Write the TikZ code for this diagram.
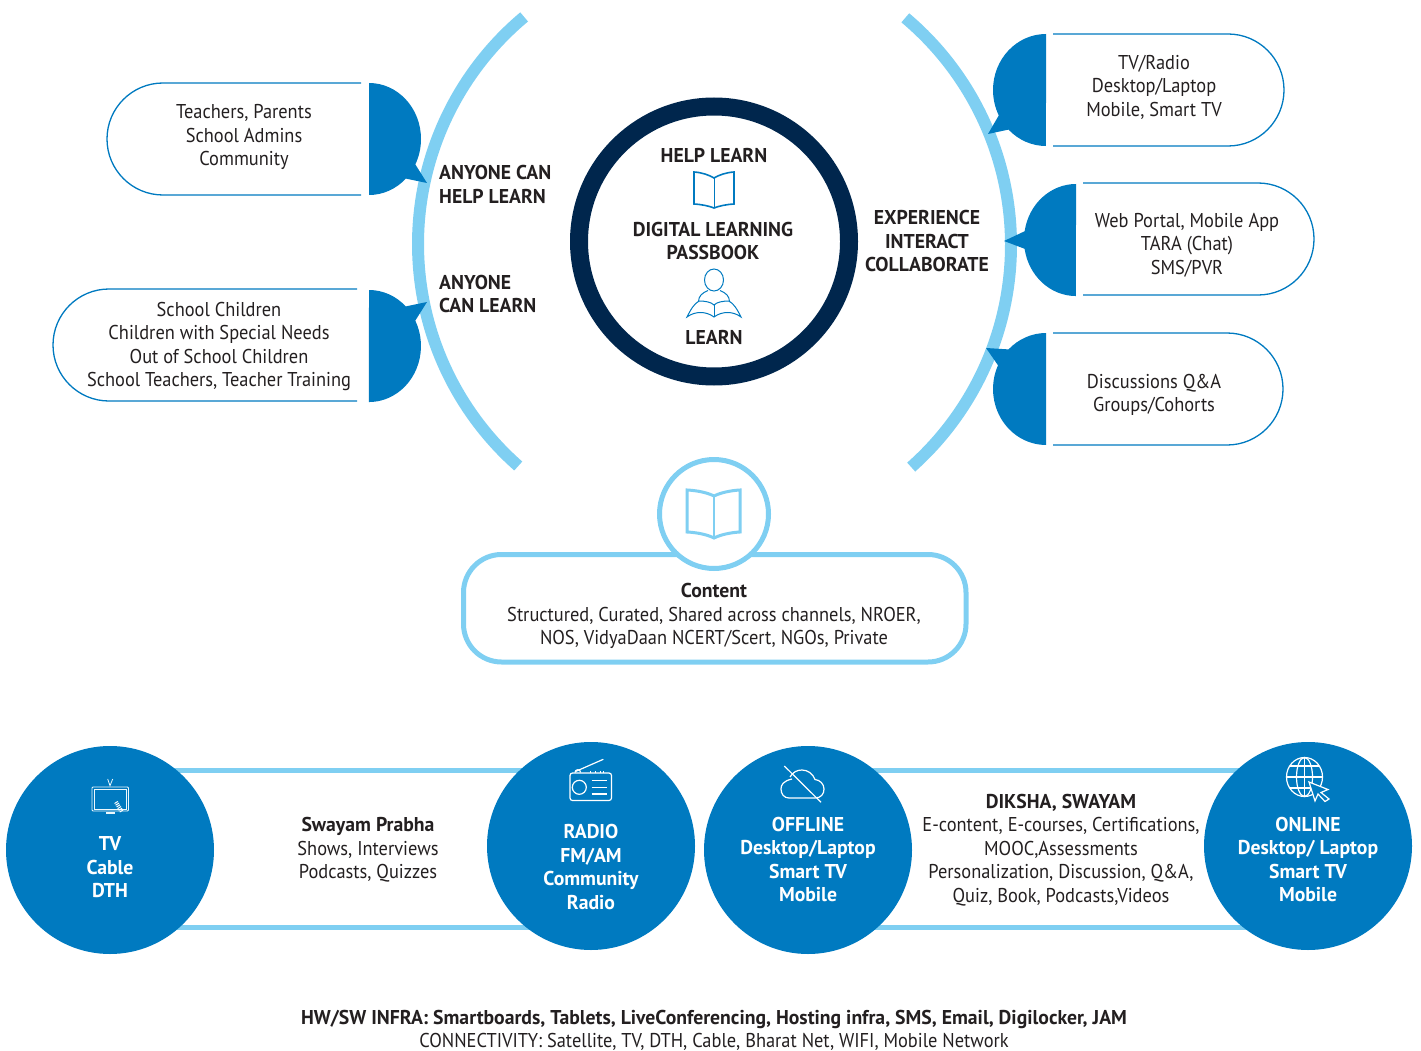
\documentclass[tikz,border=0pt]{standalone}
\usepackage{fontspec}
\usetikzlibrary{backgrounds}
\setmainfont{PT Sans}[FakeStretch=0.92,BoldFeatures={FakeStretch=0.985}]
\definecolor{bubbleblue}{HTML}{007AC0}
\definecolor{skyblue}{HTML}{7FCFF2}
\definecolor{navyring}{HTML}{00264D}
\definecolor{inktext}{HTML}{231F20}

\begin{document}
\begin{tikzpicture}[x=1pt,y=-1pt,
  txt/.style={align=center,text=inktext,inner sep=0pt,font=\fontsize{20}{23.5}\selectfont},
  head/.style={align=center,text=inktext,inner sep=0pt,font=\fontsize{20}{23.5}\selectfont\bfseries},
  headl/.style={head,align=left,anchor=west},
  wtxt/.style={head,text=white},
  pill/.style={draw=bubbleblue,line width=1.3pt},
  disc/.style={circle,fill=bubbleblue,minimum size=208pt,inner sep=0pt},
  band/.style={skyblue,line width=5pt},
  icon/.style={white,line width=1.2pt},
  iconthin/.style={white!85!skyblue,line width=0.8pt}]
\useasboundingbox (0,0) rectangle (1421,1051);

% big arcs and the ring
\draw[skyblue,line width=12pt] (714,244)++(131.4:296) arc[start angle=131.4,end angle=230.1,radius=296];
\draw[skyblue,line width=12pt] (714,245)++(-49.9:297) arc[start angle=-49.9,end angle=48.4,radius=297];
\node[circle,draw=navyring,line width=18pt,minimum size=270pt,inner sep=0pt] (ring) at (714,241.5) {};

% left bubbles
\fill[bubbleblue] (369,83) arc[start angle=-90,end angle=27,x radius=52,y radius=56] -- (427,183) -- (405.8,178.6) arc[start angle=45,end angle=90,x radius=52,y radius=56] -- cycle;
\fill[bubbleblue] (369,290) arc[start angle=-90,end angle=-45,x radius=52,y radius=56] -- (427,302) -- (415.3,320.6) arc[start angle=-27,end angle=90,x radius=52,y radius=56] -- cycle;
\draw[pill] (361,83) -- (163,83) arc[start angle=-90,end angle=-270,radius=56] -- (361,195);
\draw[pill] (357,289) -- (109,289) arc[start angle=-90,end angle=-270,radius=56] -- (357,401);

% right bubbles
\fill[bubbleblue] (1046,34) arc[start angle=-90,end angle=-207,x radius=53,y radius=56] -- (988,134) -- (1008.5,129.6) arc[start angle=-225,end angle=-270,x radius=53,y radius=56] -- cycle;
\fill[bubbleblue] (1076,184) arc[start angle=-90,end angle=-171,x radius=52,y radius=56] -- (1004,241) -- (1024.6,248.8) arc[start angle=-189,end angle=-270,x radius=52,y radius=56] -- cycle;
\fill[bubbleblue] (1046,333) arc[start angle=-90,end angle=-135,x radius=53,y radius=56] -- (986,348) -- (998,365.3) arc[start angle=-155,end angle=-270,x radius=53,y radius=56] -- cycle;
\draw[pill] (1053,34) -- (1228,34) arc[start angle=-90,end angle=90,radius=56] -- (1053,146);
\draw[pill] (1083,183) -- (1258,183) arc[start angle=-90,end angle=90,radius=56] -- (1083,295);
\draw[pill] (1053,333) -- (1227,333) arc[start angle=-90,end angle=90,radius=56] -- (1053,445);

\node[txt] (teachers) at (244,137) {Teachers, Parents\\School Admins\\Community};
\node[txt] (children) at (219,346.5) {School Children\\Children with Special Needs\\Out of School Children\\School Teachers, Teacher Training};
\node[txt] (devices) at (1154,87) {TV/Radio\\Desktop/Laptop\\Mobile, Smart TV};
\node[txt] (portal) at (1187,245) {Web Portal, Mobile App\\TARA (Chat)\\SMS/PVR};
\node[txt] (groups) at (1154,395) {Discussions Q\&A\\Groups/Cohorts};
\node[headl] (helplearn) at (439,184.5) {ANYONE CAN\\HELP LEARN};
\node[headl] (canlearn) at (439,294) {ANYONE\\CAN LEARN};
\node[head] (experience) at (927,241) {EXPERIENCE\\INTERACT\\COLLABORATE};

% centre of the ring
\node[head] (helpc) at (714,155) {HELP LEARN};
\node[head] (passbook) at (713,241) {DIGITAL LEARNING\\PASSBOOK};
\node[head] (learnc) at (714,337) {LEARN};
\draw[bubbleblue,line width=1.6pt,line join=miter] (694,172) .. controls (702,172.5) and (709,175) .. (714,178) .. controls (719,175) and (726,172.5) .. (734,172) -- (734,204) .. controls (726,204.5) and (719,206) .. (714,208) .. controls (709,206) and (702,204.5) .. (694,204) -- cycle;
\draw[bubbleblue,line width=0.8pt] (714,178) -- (714,208);
\draw[bubbleblue,line width=1pt] (714,280) ellipse[x radius=9.5,y radius=11];
\draw[bubbleblue,line width=1pt] (698.5,302) .. controls (698.5,296) and (702,293) .. (708,290.5);
\draw[bubbleblue,line width=1pt] (729.5,302) .. controls (729.5,296) and (726,293) .. (720,290.5);
\draw[bubbleblue,line width=1pt] (687,317) .. controls (691,309) and (694,304) .. (699,301) .. controls (705,301) and (711,302) .. (714,305) .. controls (717,302) and (723,301) .. (729,301) .. controls (734,304) and (737,309) .. (741,317) .. controls (733,311) and (722,311) .. (714,317) .. controls (706,311) and (695,311) .. (687,317) -- cycle;
\draw[bubbleblue,line width=0.8pt] (714,305) -- (714,317);

% content box
\draw[skyblue,line width=5pt,rounded corners=38pt] (463.5,554.5) rectangle (966,662);
\node[circle,draw=skyblue,fill=white,line width=5pt,minimum size=109pt,inner sep=0pt] (contentc) at (714,514) {};
\draw[skyblue,line width=3pt] (687,490) .. controls (697,490.5) and (707,492.5) .. (714,496) .. controls (721,492.5) and (731,490.5) .. (740,490) -- (740,532) .. controls (731,532.5) and (721,534.5) .. (714,538) .. controls (707,534.5) and (697,532.5) .. (687,532) -- cycle;
\draw[skyblue,line width=1.2pt] (714,496) -- (714,538);
\node[txt] (content) at (714,616) {\textbf{Content}\\Structured, Curated, Shared across channels, NROER,\\NOS, VidyaDaan NCERT/Scert, NGOs, Private};

% bottom row
\node[disc] (tv) at (110,850) {};
\node[disc] (radio) at (591,846) {};
\node[disc] (offline) at (808,850) {};
\node[disc] (online) at (1308,846) {};
\coordinate (bandtop) at (0,770);
\coordinate (bandbot) at (0,927.5);
\begin{scope}[on background layer]
\draw[band] (tv.center |- bandtop) -- (radio.center |- bandtop);
\draw[band] (tv.center |- bandbot) -- (radio.center |- bandbot);
\draw[band] (offline.center |- bandtop) -- (online.center |- bandtop);
\draw[band] (offline.center |- bandbot) -- (online.center |- bandbot);
\end{scope}

\node[wtxt] (tvt) at (110,867.5) {TV\\Cable\\DTH};
\node[wtxt] (radiot) at (591,867) {RADIO\\FM/AM\\Community\\Radio};
\node[wtxt] (offlinet) at (808,859.5) {OFFLINE\\Desktop/Laptop\\Smart TV\\Mobile};
\node[wtxt] (onlinet) at (1308,859.5) {ONLINE\\Desktop/ Laptop\\Smart TV\\Mobile};
\node[txt] (swayam) at (368,850) {\textbf{Swayam Prabha}\\Shows, Interviews\\Podcasts, Quizzes};
\node[txt] (diksha) at (1061,850) {\textbf{DIKSHA, SWAYAM}\\E-content, E-courses, Certifications,\\MOOC,Assessments\\Personalization, Discussion, Q\&A,\\Quiz, Book, Podcasts,Videos};
\node[txt] (infra) at (714,1030.5) {\textbf{HW/SW INFRA: Smartboards, Tablets, LiveConferencing, Hosting infra, SMS, Email, Digilocker, JAM}\\CONNECTIVITY: Satellite, TV, DTH, Cable, Bharat Net, WIFI, Mobile Network};

% tv icon
\draw[iconthin,rounded corners=1pt] (92,787) rectangle (128.5,811);
\draw[iconthin] (94,789) rectangle (126.5,809);
\draw[iconthin] (107.7,779) -- (110,785.7) -- (112.7,779);
\fill[white!85!skyblue] (106,812) rectangle (114.7,814);
\draw[white,line width=4pt,dash pattern=on 1pt off 1pt] (116,802) -- (122,812);

% radio icon
\draw[icon,rounded corners=2.5pt] (570,773) rectangle (611.5,800.5);
\draw[icon] (579.3,787.3) circle[radius=7];
\draw[icon] (591.7,780.7) -- (607.3,780.7);
\draw[icon] (591.7,787.3) -- (607.3,787.3);
\draw[icon] (591.7,794) -- (607.3,794);
\draw[icon] (575,771.7) -- (603.3,759.3);
\draw[icon] (575,772.5) arc[start angle=180,end angle=360,radius=2.8];
\foreach \xt in {590,595,600,603}
  \draw[white,line width=1pt] (\xt,771) -- (\xt,773);

% cloud icon
\draw[icon] (789,798) -- (815,798) .. controls (821,798) and (824,794) .. (824,789) .. controls (824,784) and (820,780) .. (815,779.5) .. controls (813,774) and (808,770) .. (802,770) .. controls (797,770) and (793,772) .. (790,777);
\draw[icon] (789,798) .. controls (784,798) and (781,794) .. (781,789) .. controls (781,785) and (783,781) .. (792,779);
\draw[icon] (784.3,766) -- (821,802.3);

% globe icon
\draw[icon] (1304.5,777) ellipse[x radius=18,y radius=19.5];
\draw[icon] (1304.5,777) ellipse[x radius=8,y radius=19.5];
\draw[icon] (1304.5,757.5) -- (1304.5,796.5);
\draw[icon] (1286.5,777) -- (1322.5,777);
\draw[icon] (1290,766) -- (1319,766);
\draw[icon] (1290,788) -- (1319,788);
\filldraw[fill=bubbleblue,draw=white,line width=1.2pt,line join=miter] (1309,782) -- (1328,789.5) -- (1321,792.5) -- (1329,799) -- (1325,801.5) -- (1318,794) -- (1315,801) -- cycle;
\end{tikzpicture}
\end{document}
